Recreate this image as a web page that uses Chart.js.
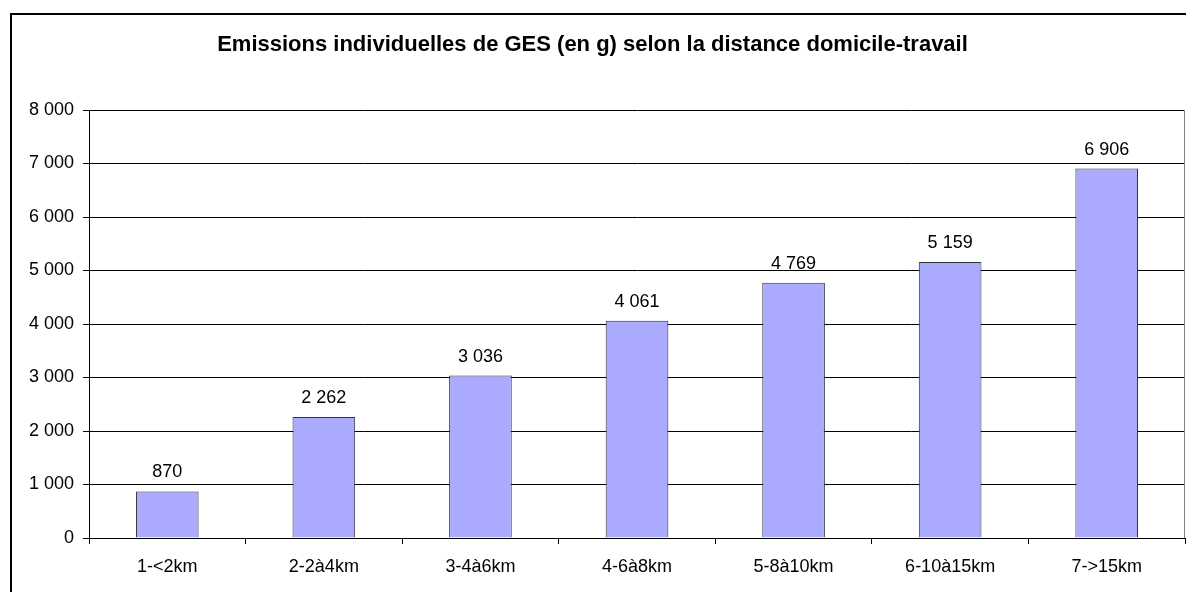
<!DOCTYPE html>
<html>
<head>
<meta charset="utf-8">
<script src="https://cdn.jsdelivr.net/npm/chart.js@4.4.0/dist/chart.umd.min.js"></script>
<style>
  html, body { margin: 0; padding: 0; background: #ffffff; }
  #wrap { width: 1186px; height: 592px; position: relative; }
</style>
</head>
<body>
<div id="wrap"><canvas id="c" width="1186" height="592"></canvas></div>
<script>
const titleText = "Emissions individuelles de GES (en g) selon la distance domicile-travail";
const categories = ["1-<2km", "2-2à4km", "3-4à6km", "4-6à8km", "5-8à10km", "6-10à15km", "7->15km"];
const emissions = [870, 2262, 3036, 4061, 4769, 5159, 6906];
const yTicks = [0, 1000, 2000, 3000, 4000, 5000, 6000, 7000, 8000];

const FONT = "'Liberation Sans', Arial, Helvetica, sans-serif";
function fmt(v) { return String(v).replace(/\B(?=(\d{3})+(?!\d))/g, ' '); }

const decor = {
  id: 'decor',
  afterDraw(chart) {
    const ctx = chart.ctx;
    const a = chart.chartArea;
    ctx.save();
    // outer chart border
    ctx.strokeStyle = '#000';
    ctx.lineWidth = 2;
    ctx.strokeRect(11, 14, 1200, 620);
    // plot area right edge
    ctx.strokeStyle = '#808080';
    ctx.lineWidth = 1;
    ctx.beginPath();
    ctx.moveTo(Math.round(a.right) - 0.5, a.top);
    ctx.lineTo(Math.round(a.right) - 0.5, a.bottom);
    ctx.stroke();
    // data labels
    ctx.fillStyle = '#000';
    ctx.font = '18px ' + FONT;
    ctx.textAlign = 'center';
    ctx.textBaseline = 'alphabetic';
    const meta = chart.getDatasetMeta(0);
    meta.data.forEach((bar, i) => {
      ctx.fillText(fmt(chart.data.datasets[0].data[i]), bar.x, bar.y - 14);
    });
    ctx.restore();
  }
};

new Chart(document.getElementById('c'), {
  type: 'bar',
  data: {
    labels: categories,
    datasets: [{
      data: emissions,
      backgroundColor: '#aaaaff',
      borderColor: '#333333',
      borderWidth: 1,
      barPercentage: 0.40,
      categoryPercentage: 1.0
    }]
  },
  options: {
    responsive: false,
    animation: false,
    layout: { padding: { left: 0, right: 1, top: 0, bottom: 0 } },
    plugins: {
      legend: { display: false },
      tooltip: { enabled: false },
      title: {
        display: true,
        text: titleText,
        color: '#000',
        font: { family: FONT, size: 22, weight: 'bold', lineHeight: 1.2 },
        padding: { top: 32, bottom: 51.6 }
      }
    },
    scales: {
      x: {
        grid: { display: true, drawOnChartArea: false, drawTicks: true, tickLength: 6, color: '#000', offset: true },
        border: { display: true, color: '#000', width: 1 },
        ticks: { color: '#000', font: { family: FONT, size: 18 }, padding: 12, maxRotation: 0, autoSkip: false },
        afterFit(scale) { scale.height = 54; }
      },
      y: {
        min: 0,
        max: 8000,
        afterBuildTicks(scale) { scale.ticks = yTicks.map(v => ({ value: v })); },
        grid: { color: '#000', tickLength: 6, drawTicks: true },
        border: { display: true, color: '#000', width: 1 },
        ticks: { color: '#000', font: { family: FONT, size: 18 }, padding: 9, callback: (v) => fmt(v) },
        afterFit(scale) { scale.width = 89; }
      }
    }
  },
  plugins: [decor]
});
</script>
</body>
</html>
